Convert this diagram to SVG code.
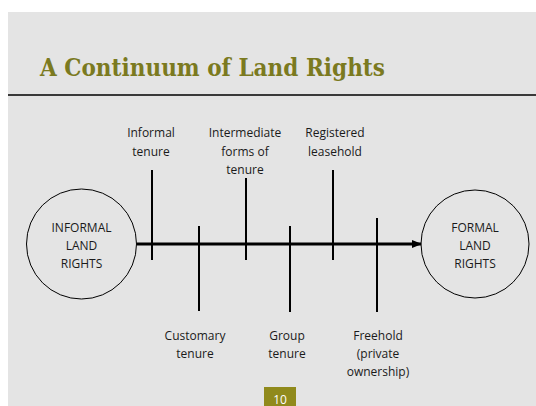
<svg xmlns="http://www.w3.org/2000/svg" width="536" height="406" viewBox="0 0 536 406">
<defs>
<style>
.lbl{font-family:"Open Sans","Liberation Sans",sans-serif;font-size:12px;fill:#1a1a1a;text-anchor:middle}
.tick{stroke:#000;stroke-width:2}
.node{fill:none;stroke:#000;stroke-width:1}
</style>
<marker id="ah" markerWidth="10" markerHeight="8" refX="9" refY="4" orient="auto" markerUnits="userSpaceOnUse">
<path d="M0,0 L10,4 L0,8 Z" fill="#000"/>
</marker>
</defs>
<rect width="536" height="406" fill="#fff"/>
<rect x="8" y="12" width="528" height="394" fill="#e4e4e4"/>
<text x="40" y="76" font-family="'DejaVu Serif',serif" font-weight="bold" font-size="24" fill="#7b7a1f" textLength="345" lengthAdjust="spacingAndGlyphs">A Continuum of Land Rights</text>
<line x1="8" y1="95" x2="536" y2="95" stroke="#000" stroke-width="1.5"/>
<g id="connectors">
<line x1="137" y1="244" x2="421" y2="244" stroke="#000" stroke-width="3" marker-end="url(#ah)"/>
<line class="tick" x1="152" y1="170" x2="152" y2="260"/>
<line class="tick" x1="199" y1="226" x2="199" y2="311"/>
<line class="tick" x1="246" y1="178" x2="246" y2="260"/>
<line class="tick" x1="290" y1="226" x2="290" y2="312"/>
<line class="tick" x1="333" y1="170" x2="333" y2="260"/>
<line class="tick" x1="377" y1="218" x2="377" y2="312"/>
</g>
<g id="informal">
<circle class="node" cx="81.5" cy="244" r="55"/>
<text class="lbl" x="81.5" y="232">INFORMAL</text>
<text class="lbl" x="81.5" y="250">LAND</text>
<text class="lbl" x="81.5" y="268">RIGHTS</text>
</g>
<g id="formal">
<circle class="node" cx="475" cy="244" r="54"/>
<text class="lbl" x="475" y="232">FORMAL</text>
<text class="lbl" x="475" y="250">LAND</text>
<text class="lbl" x="475" y="268">RIGHTS</text>
</g>
<g id="informal-tenure">
<text class="lbl" x="151" y="137">Informal</text>
<text class="lbl" x="151" y="156">tenure</text>
</g>
<g id="intermediate">
<text class="lbl" x="245" y="137">Intermediate</text>
<text class="lbl" x="245" y="156">forms of</text>
<text class="lbl" x="245" y="174">tenure</text>
</g>
<g id="registered">
<text class="lbl" x="335" y="137">Registered</text>
<text class="lbl" x="335" y="156">leasehold</text>
</g>
<g id="customary">
<text class="lbl" x="195" y="340">Customary</text>
<text class="lbl" x="195" y="358">tenure</text>
</g>
<g id="group">
<text class="lbl" x="287" y="340">Group</text>
<text class="lbl" x="287" y="358">tenure</text>
</g>
<g id="freehold">
<text class="lbl" x="378" y="340">Freehold</text>
<text class="lbl" x="378" y="358">(private</text>
<text class="lbl" x="378" y="376">ownership)</text>
</g>
<g id="page">
<rect x="264" y="387" width="32" height="19" fill="#908a1c"/>
<text x="280" y="404" font-family="'Open Sans','Liberation Sans',sans-serif" font-size="12" fill="#fff" text-anchor="middle">10</text>
</g>
</svg>
